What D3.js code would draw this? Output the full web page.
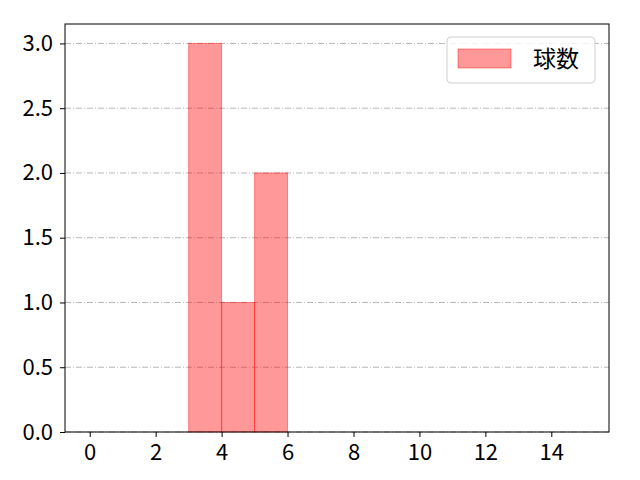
<!DOCTYPE html>
<meta charset="utf-8">
<style>
body { margin: 0; background: #fff; }
.axis path, .axis line { stroke: #000; stroke-width: 1; }
.grid line { stroke: #b0b0b0; stroke-width: 0.9; stroke-dasharray: 6,2,1,2; }
</style>
<body>
<script src="https://cdn.jsdelivr.net/npm/d3@7"></script>
<script>

var binEdges = [3, 4, 5, 6];
var counts = [3, 1, 2];
var xTicks = [0, 2, 4, 6, 8, 10, 12, 14];
var yTicks = [0, 0.5, 1.0, 1.5, 2.0, 2.5, 3.0];
var seriesName = "球数";

var fontFamily = "'Noto Sans CJK JP', 'DejaVu Sans', sans-serif";
var fontSize = "22px";

var m = {top: 24, right: 31, bottom: 48, left: 65},
    w = 640 - m.left - m.right,
    h = 480 - m.top - m.bottom;

var x = d3.scaleLinear().domain([-0.75, 15.75]).range([0, w]);
var y = d3.scaleLinear().domain([0, 3.15]).range([h, 0]);

var svg = d3.select("body").append("svg")
    .attr("width", 640)
    .attr("height", 480)
  .append("g")
    .attr("transform", "translate(" + m.left + "," + m.top + ")");

// horizontal grid
svg.append("g")
    .attr("class", "grid")
  .selectAll("line")
    .data(yTicks)
  .enter().append("line")
    .attr("x1", 0)
    .attr("x2", w)
    .attr("y1", function(d) { return y(d); })
    .attr("y2", function(d) { return y(d); });

var bins = counts.map(function(c, i) { return {x0: binEdges[i], x1: binEdges[i + 1], count: c}; });

svg.selectAll("rect.bar")
    .data(bins)
  .enter().append("rect")
    .attr("class", "bar")
    .attr("x", function(d) { return x(d.x0); })
    .attr("y", function(d) { return y(d.count); })
    .attr("width", function(d) { return x(d.x1) - x(d.x0); })
    .attr("height", function(d) { return y(0) - y(d.count); })
    .attr("fill", "red")
    .attr("fill-opacity", 0.4)
    .attr("stroke", "red")
    .attr("stroke-opacity", 0.4)
    .attr("stroke-width", 1);

svg.append("g")
    .attr("class", "x axis")
    .attr("transform", "translate(0," + h + ")")
    .call(d3.axisBottom(x).tickValues(xTicks).tickSize(5).tickPadding(7).tickFormat(d3.format("d")))
    .attr("font-family", fontFamily)
    .attr("font-size", fontSize)
    .call(function(g) { g.select(".domain").remove(); });

svg.append("g")
    .attr("class", "y axis")
    .call(d3.axisLeft(y).tickValues(yTicks).tickSize(5).tickPadding(7).tickFormat(d3.format(".1f")))
    .attr("font-family", fontFamily)
    .attr("font-size", fontSize)
    .call(function(g) { g.select(".domain").remove(); });

// frame
svg.append("rect")
    .attr("width", w)
    .attr("height", h)
    .attr("fill", "none")
    .attr("stroke", "#000")
    .attr("stroke-width", 1);

// legend
var legend = svg.append("g")
    .attr("transform", "translate(" + (w - 162) + ",13)");

legend.append("rect")
    .attr("width", 148)
    .attr("height", 46)
    .attr("rx", 4)
    .attr("fill", "#fff")
    .attr("fill-opacity", 0.8)
    .attr("stroke", "#d0d0d0");

legend.append("rect")
    .attr("x", 11)
    .attr("y", 12)
    .attr("width", 53)
    .attr("height", 19)
    .attr("fill", "red")
    .attr("fill-opacity", 0.4)
    .attr("stroke", "red")
    .attr("stroke-opacity", 0.4);

legend.append("text")
    .attr("x", 86)
    .attr("y", 22)
    .attr("dy", "0.35em")
    .attr("font-family", fontFamily)
    .style("font-size", "23px")
    .text(seriesName);

</script>
